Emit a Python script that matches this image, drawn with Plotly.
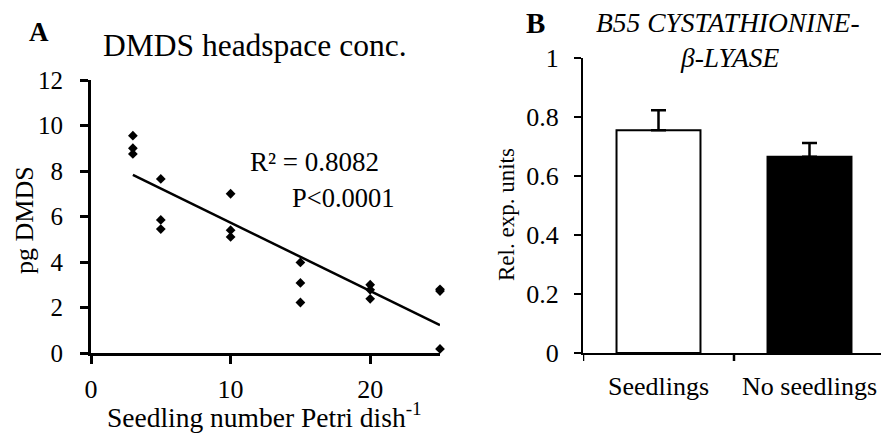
import numpy as np
import plotly.graph_objects as go

# Panel A: DMDS headspace concentration vs. seedling number
seedlings_per_dish = [3, 3, 3, 5, 5, 5, 10, 10, 10, 15, 15, 15, 20, 20, 20, 25, 25, 25]
dmds_pg = [9.55, 9.0, 8.75, 7.65, 5.85, 5.45, 7.0, 5.4, 5.1, 3.98, 3.08, 2.22,
           3.0, 2.78, 2.38, 2.8, 2.72, 0.18]
r2_label = "R² = 0.8082"
p_label = "P<0.0001"

# Panel B: relative expression of cystathionine-beta-lyase
groups = ["Seedlings", "No seedlings"]
rel_expression = [0.755, 0.665]
rel_expression_se = [0.068, 0.047]
bar_fill = ["white", "black"]

FONT = "Liberation Serif, Times New Roman, serif"
W, H = 881, 436


def px_x(p):
    return p / W


def px_y(p):
    return 1 - p / H


# least-squares trend line over the scatter data
slope, intercept = np.polyfit(seedlings_per_dish, dmds_pg, 1)
fit_x = np.array([min(seedlings_per_dish), max(seedlings_per_dish)])
fit_y = slope * fit_x + intercept

fig = go.Figure()

fig.add_trace(go.Scatter(
    x=seedlings_per_dish, y=dmds_pg, mode="markers",
    marker=dict(symbol="diamond", size=7.5, color="black"),
    cliponaxis=False, xaxis="x", yaxis="y", showlegend=False,
))
fig.add_trace(go.Scatter(
    x=fit_x, y=fit_y, mode="lines",
    line=dict(color="black", width=2.5),
    cliponaxis=False, xaxis="x", yaxis="y", showlegend=False,
))

fig.add_trace(go.Bar(
    x=[0, 1], y=rel_expression, width=0.556,
    marker=dict(color=bar_fill, line=dict(color="black", width=2)),
    error_y=dict(type="data", array=rel_expression_se, arrayminus=[0, 0],
                 symmetric=False, color="black", thickness=2.5, width=7.5),
    xaxis="x2", yaxis="y2", showlegend=False,
))

axis_common = dict(showgrid=False, zeroline=False, showline=True, linecolor="black",
                   tickcolor="black", automargin=False)

fig.update_layout(
    width=W, height=H,
    margin=dict(l=0, r=0, t=0, b=0, autoexpand=False),
    paper_bgcolor="white", plot_bgcolor="white",
    font=dict(family=FONT, color="black"),
    showlegend=False,
    xaxis=dict(domain=[px_x(91), px_x(440)], range=[0, 25], tickvals=[0, 10, 20],
               ticks="outside", linewidth=3, ticklen=8, tickwidth=3, ticklabelstandoff=3,
               tickfont=dict(family=FONT, size=26, color="black"),
               anchor="y", **axis_common),
    yaxis=dict(domain=[px_y(353), px_y(80)], range=[0, 12], dtick=2,
               ticks="outside", linewidth=3, ticklen=8, tickwidth=3, ticklabelstandoff=12,
               tickfont=dict(family=FONT, size=25, color="black"),
               anchor="x", **axis_common),
    xaxis2=dict(domain=[px_x(583), 1.0], range=[-0.5, -0.5 + 298 / 151],
                tickmode="array", tickvals=[0, 1], ticktext=groups, ticks="",
                linewidth=2, ticklabelstandoff=9,
                tickfont=dict(family=FONT, size=26, color="black"),
                anchor="y2", **axis_common),
    yaxis2=dict(domain=[px_y(353), px_y(58)], range=[0, 1],
                tickmode="array", tickvals=[0, 0.2, 0.4, 0.6, 0.8, 1],
                ticktext=["0", "0.2", "0.4", "0.6", "0.8", "1"],
                ticks="outside", linewidth=2, ticklen=7, tickwidth=2, ticklabelstandoff=10,
                tickfont=dict(family=FONT, size=26, color="black"),
                anchor="x2", **axis_common),
)

# boundary ticks at the start of the axis and between the two bar groups
shapes = []
for b in [-0.5, 0.5]:
    shapes.append(dict(type="line", xref="x2", yref="paper", x0=b, x1=b,
                       y0=px_y(353), y1=px_y(361), line=dict(color="black", width=2.5)))
fig.update_layout(shapes=shapes)


def label(text, x, y, size, **kw):
    fig.add_annotation(text=text, x=px_x(x), y=px_y(y), xref="paper", yref="paper",
                       showarrow=False, xanchor="center", yanchor="middle",
                       font=dict(family=FONT, size=size, color="black"), **kw)


label("<b>A</b>", 39, 32, 27)
label("DMDS headspace conc.", 255, 45, 31.5)
label("pg DMDS", 24, 220, 26, textangle=-90)
label("Seedling number Petri dish<sup>-1</sup>", 264, 415, 27.5)
label(r2_label, 314, 162, 27)
label(p_label, 343, 198, 26.5)

label("<b>B</b>", 535, 23, 29)
label("<i>B55 CYSTATHIONINE-</i>", 728, 23, 27.5)
label("<i>β-LYASE</i>", 730, 58, 27.5)
label("Rel. exp. units", 506, 215, 23, textangle=-90)

fig.write_html("out.html")
